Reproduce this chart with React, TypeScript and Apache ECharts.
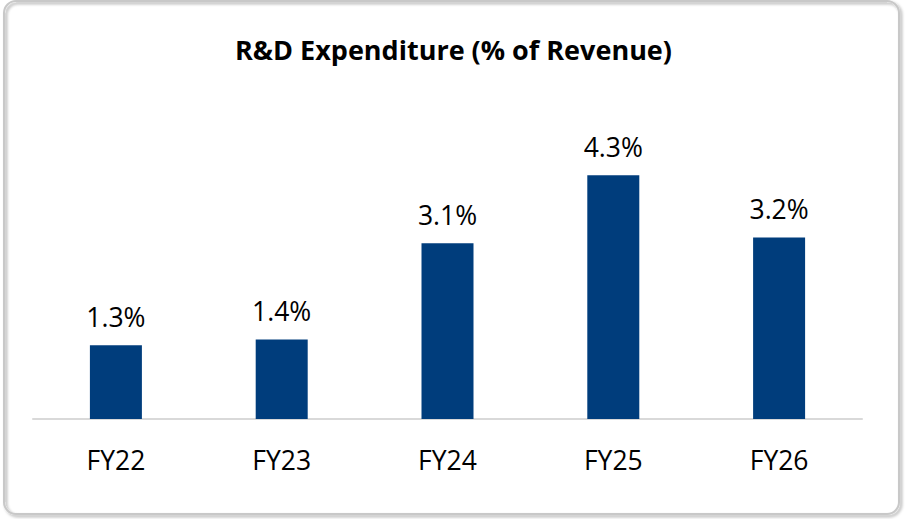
import React, { useEffect, useRef } from "react";
import * as echarts from "echarts";

const categories = ["FY22", "FY23", "FY24", "FY25", "FY26"];
const values = [1.3, 1.4, 3.1, 4.3, 3.2];
const titleText = "R&D Expenditure (% of Revenue)";

export default function App() {
  const ref = useRef<HTMLDivElement>(null);
  useEffect(() => {
    if (!ref.current) return;
    const chart = echarts.init(ref.current, null, { renderer: "svg" });
    chart.setOption({
      animation: false,
      backgroundColor: "#ffffff",
      title: {
        text: titleText,
        left: "center",
        top: 31,
        textStyle: { fontFamily: "Open Sans", fontWeight: "bold", fontSize: 27, color: "#000" },
      },
      graphic: [
        {
          type: "rect",
          shape: { x: 4, y: 1, width: 895, height: 513, r: 12 },
          style: {
            fill: "none",
            stroke: "#c8c8c8",
            lineWidth: 2,
            shadowColor: "rgba(0,0,0,0.35)",
            shadowBlur: 3,
            shadowOffsetX: 2,
            shadowOffsetY: 2,
          },
          z: 10,
        },
      ],
      grid: { left: 33, right: 45, top: 135.5, bottom: 100, containLabel: false },
      xAxis: {
        type: "category",
        data: categories,
        axisLine: { show: true, lineStyle: { color: "#d9d9d9", width: 2 } },
        axisTick: { show: false },
        axisLabel: { fontFamily: "Open Sans", fontSize: 26.5, color: "#000", margin: 27 },
      },
      yAxis: {
        type: "value",
        min: 0,
        max: 5,
        show: false,
        splitLine: { show: false },
      },
      series: [
        {
          type: "bar",
          data: values,
          barWidth: 52,
          itemStyle: { color: "#003D7C" },
          label: {
            show: true,
            position: "top",
            distance: 15,
            formatter: (p: any) => p.value.toFixed(1) + "%",
            fontFamily: "Open Sans",
            fontSize: 26.5,
            color: "#000",
          },
        },
      ],
    });
    return () => chart.dispose();
  }, []);
  return (
    <div
      ref={ref}
      style={{ position: "absolute", left: 0, top: 0, width: 907, height: 519 }}
    />
  );
}
